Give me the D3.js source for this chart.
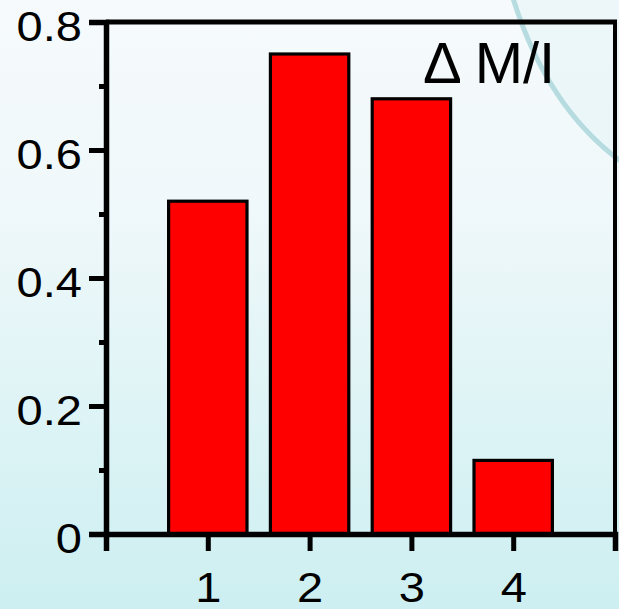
<!DOCTYPE html>
<html>
<head>
<meta charset="utf-8">
<script src="https://cdn.jsdelivr.net/npm/d3@7"></script>
<style>
html,body{margin:0;padding:0;overflow:hidden;}
svg{display:block;}
</style>
</head>
<body>
<svg id="chart" width="619" height="609"></svg>
<script>
const categories = [1, 2, 3, 4];
const values = [0.52, 0.75, 0.68, 0.115];
const yMajorTicks = [0, 0.2, 0.4, 0.6, 0.8];
const yMinorTicks = [0.1, 0.3, 0.5, 0.7];
const yTickLabels = ["0", "0.2", "0.4", "0.6", "0.8"];
const xTicks = [0, 1, 2, 3, 4, 5];
const xTickLabels = ["", "1", "2", "3", "4", ""];
const title = "\u0394 M/I";

const W = 619, H = 609;
const svg = d3.select("#chart");
const FONT = "'Liberation Sans', Arial, sans-serif";
const SX = 1.12;

// background gradient
const defs = svg.append("defs");
const grad = defs.append("linearGradient").attr("id","bg").attr("x1",0).attr("y1",0).attr("x2",0).attr("y2",1);
grad.append("stop").attr("offset","0%").attr("stop-color","#f6fafc");
grad.append("stop").attr("offset","35%").attr("stop-color","#eff8fa");
grad.append("stop").attr("offset","100%").attr("stop-color","#cdeff1");
svg.append("rect").attr("width",W).attr("height",H).attr("fill","url(#bg)");

// decorative arc
svg.append("path")
  .attr("d","M 512 -5 Q 547 110 626 165 L 626 -5 Z")
  .attr("fill","#e3f3f6").attr("opacity",0.5);
svg.append("path")
  .attr("d","M 512 -5 Q 547 110 626 165")
  .attr("fill","none").attr("stroke","#a8d5da").attr("stroke-width",5).attr("opacity",0.8);

const x = d3.scaleLinear().domain([0,5]).range([106,615]);
const y = d3.scaleLinear().domain([0,0.8]).range([534,22]);
const halfW = 0.385;

// bars
svg.append("g").selectAll("rect").data(categories).join("rect")
  .attr("x", d => x(d - halfW))
  .attr("width", d => x(d + halfW) - x(d - halfW))
  .attr("y", (d,i) => y(values[i]))
  .attr("height", (d,i) => y(0) - y(values[i]))
  .attr("fill","#ff0000").attr("stroke","#000").attr("stroke-width",3.2);

// frame top/right
svg.append("line").attr("x1",x(0)).attr("x2",x(5)+2).attr("y1",y(0.8)).attr("y2",y(0.8))
  .attr("stroke","#000").attr("stroke-width",5);
svg.append("line").attr("x1",x(5)).attr("x2",x(5)).attr("y1",y(0.8)).attr("y2",y(0))
  .attr("stroke","#000").attr("stroke-width",4);

// Y axis
const yAxis = d3.axisLeft(y).tickValues(yMajorTicks).tickSize(17).tickPadding(7)
  .tickFormat((d,i) => yTickLabels[i]);
const gy = svg.append("g").attr("transform",`translate(${x(0)},0)`).call(yAxis);
gy.select(".domain").attr("stroke","#000").attr("stroke-width",5.5);
gy.selectAll(".tick line").attr("stroke","#000").attr("stroke-width",5);
gy.selectAll(".tick text").attr("font-family",FONT)
  .attr("font-size",42).attr("fill","#000").attr("dy","0.45em")
  .attr("x", -24 / SX).attr("transform", `scale(${SX},1)`);
const yMinor = d3.axisLeft(y).tickValues(yMinorTicks).tickSize(7).tickFormat("");
const gym = svg.append("g").attr("transform",`translate(${x(0)},0)`).call(yMinor);
gym.select(".domain").remove();
gym.selectAll(".tick line").attr("stroke","#000").attr("stroke-width",5);

// X axis
const xAxis = d3.axisBottom(x).tickValues(xTicks).tickSize(17).tickPadding(21)
  .tickFormat((d,i) => xTickLabels[i]);
const gx = svg.append("g").attr("transform",`translate(0,${y(0)})`).call(xAxis);
gx.select(".domain").attr("stroke","#000").attr("stroke-width",5.5);
gx.selectAll(".tick line").attr("stroke","#000").attr("stroke-width",5);
gx.selectAll(".tick text").attr("font-family",FONT)
  .attr("font-size",42).attr("fill","#000").attr("transform", `scale(${SX},1)`);

// title
svg.append("text").attr("x",423).attr("y",83)
  .attr("font-family",FONT)
  .attr("font-size",58).attr("fill","#000").text(title);
</script>
</body>
</html>
